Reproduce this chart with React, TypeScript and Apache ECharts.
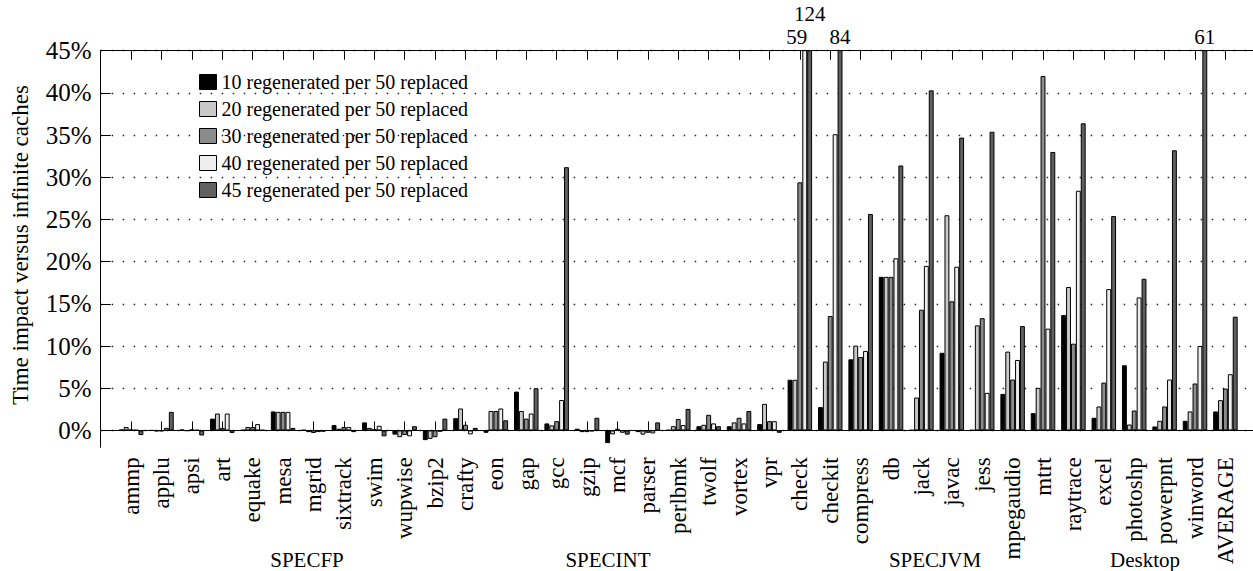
import React, { useEffect, useRef } from 'react';
import * as echarts from 'echarts';

const categories = [
  'ammp', 'applu', 'apsi', 'art', 'equake', 'mesa', 'mgrid', 'sixtrack', 'swim', 'wupwise',
  'bzip2', 'crafty', 'eon', 'gap', 'gcc', 'gzip', 'mcf', 'parser', 'perlbmk', 'twolf', 'vortex', 'vpr',
  'check', 'checkit', 'compress', 'db', 'jack', 'javac', 'jess', 'mpegaudio', 'mtrt', 'raytrace',
  'excel', 'photoshp', 'powerpnt', 'winword', 'AVERAGE',
];

const regen10 = [
  0.1, 0.0, 0.1, 1.4, 0.05, 2.25, 0.05, 0.63, 0.95, -0.5,
  -1.15, 1.45, -0.28, 4.6, 0.83, 0.2, -1.5, -0.2, 0.05, 0.5, 0.5, 0.75,
  6.0, 2.76, 8.43, 18.2, 0.04, 9.2, 0.04, 4.33, 2.05, 13.67,
  1.5, 7.72, 0.47, 1.14, 2.25,
];
const regen20 = [
  0.4, -0.1, -0.05, 2.0, 0.4, 2.2, -0.2, 0.2, 0.3, -0.8,
  -1.0, 2.6, 2.3, 2.3, 0.6, -0.2, -0.47, -0.5, 0.5, 0.67, 0.95, 3.15,
  6.0, 8.16, 10.05, 18.2, 3.9, 25.5, 12.45, 9.34, 5.04, 17.0,
  2.84, 0.7, 1.14, 2.25, 3.59,
];
const regen30 = [
  0.1, -0.1, 0.1, 0.3, 0.4, 2.2, -0.3, 0.4, 0.15, -0.55,
  -0.8, 0.67, 2.3, 1.4, 1.1, -0.2, 0.2, -0.28, 1.35, 1.85, 1.5, 1.1,
  29.4, 13.55, 8.7, 18.2, 14.3, 15.3, 13.3, 6.03, 42.0, 10.28,
  5.67, 2.36, 2.84, 5.56, 4.96,
];
const regen40 = [
  0.05, 0.3, 0.05, 2.0, 0.75, 2.2, -0.2, 0.4, 0.55, -0.7,
  -0.15, -0.47, 2.6, 2.0, 3.6, -0.1, -0.28, -0.35, 0.63, 0.83, 0.83, 1.1,
  59, 35.1, 9.42, 20.4, 19.5, 19.4, 4.45, 8.35, 12.06, 28.4,
  16.75, 15.76, 6.03, 10.0, 6.66,
];
const regen45 = [
  -0.55, 2.2, -0.6, -0.3, 0.05, 0.3, -0.15, -0.2, -0.7, 0.5,
  1.4, 0.3, 1.2, 5.0, 31.2, 1.5, -0.5, 0.95, 2.55, 0.5, 2.3, -0.28,
  124, 84, 25.65, 31.4, 40.3, 34.7, 35.4, 12.37, 33.0, 36.4,
  25.4, 17.97, 33.2, 61, 13.48,
];

const seriesNames = [
  '10 regenerated per 50 replaced',
  '20 regenerated per 50 replaced',
  '30 regenerated per 50 replaced',
  '40 regenerated per 50 replaced',
  '45 regenerated per 50 replaced',
];
const seriesValues = [regen10, regen20, regen30, regen40, regen45];

const yTicks = [0, 5, 10, 15, 20, 25, 30, 35, 40, 45];

const yTitle = 'Time impact versus infinite caches';
const groupNames = ['SPECFP', 'SPECINT', 'SPECJVM', 'Desktop'];

export default function App() {
  const ref = useRef<HTMLDivElement>(null);

  useEffect(() => {
    if (!ref.current) return;
    const chart = echarts.init(ref.current, null, { renderer: 'svg' });
    const font = 'Liberation Serif';
    const colors = ['#000000', '#c8c8c8', '#8c8c8c', '#eeeeee', '#606060'];
    const YMIN = -2;
    const YMAX = 45;
    const padL = '_padL';
    const padR = '_padR';
    const axisData = [padL, ...categories, padR];
    const isPad = (v: string) => v === padL || v === padR;
    const overflowOffsets: Record<string, number[]> = {
      'check|3': [-8, 0],
      'check|4': [0, -23],
    };
    const groupX = [307, 608, 935, 1145];

    const series: any[] = seriesValues.map((vals, si) => ({
      name: seriesNames[si],
      type: 'bar',
      xAxisIndex: 0,
      barWidth: 4.9,
      barGap: '0%',
      itemStyle: { color: colors[si], borderColor: '#000', borderWidth: 1 },
      label: {
        show: false,
        position: 'top',
        distance: 3,
        color: '#000',
        fontFamily: font,
        fontSize: 21,
        formatter: (p: any) => String(p.value),
      },
      data: [
        '-',
        ...vals.map((v, ci) =>
          v > YMAX
            ? {
                value: v,
                label: { show: true, offset: overflowOffsets[categories[ci] + '|' + si] || [0, 0] },
              }
            : v
        ),
        '-',
      ],
    }));

    series[0].markLine = {
      silent: true,
      symbol: 'none',
      label: { show: false },
      lineStyle: { color: '#000', type: 'solid', width: 1 },
      data: [{ yAxis: 0 }],
    };

    const xAxisCommon = {
      type: 'category',
      data: axisData,
      boundaryGap: false,
      axisLine: { show: true, lineStyle: { color: '#000', width: 1 } },
      axisTick: {
        show: true,
        inside: true,
        length: 9,
        interval: (_i: number, v: string) => !isPad(v),
        lineStyle: { color: '#000', width: 1 },
      },
      splitLine: { show: false },
    };

    chart.setOption({
      animation: false,
      backgroundColor: '#fff',
      grid: {
        left: 100.7,
        top: 50.7,
        right: -2.8,
        bottom: 123.7,
        containLabel: false,
        outerBoundsMode: 'none',
      },
      legend: {
        orient: 'vertical',
        left: 199,
        top: 72,
        padding: 0,
        itemWidth: 17,
        itemHeight: 15,
        itemGap: 7,
        itemTextGap: 14,
        icon: 'rect',
        itemStyle: { borderColor: '#000', borderWidth: 1 },
        textStyle: { fontFamily: font, fontSize: 20, color: '#000', lineHeight: 15 },
        data: seriesNames,
      },
      xAxis: [
        {
          ...xAxisCommon,
          position: 'bottom',
          axisLabel: {
            show: true,
            interval: 0,
            rotate: 90,
            margin: 10,
            fontFamily: font,
            fontSize: 23,
            color: '#000',
            formatter: (v: string) => (isPad(v) ? '' : v),
          },
        },
        {
          ...xAxisCommon,
          position: 'top',
          axisLabel: { show: false },
        },
      ],
      yAxis: {
        type: 'value',
        min: YMIN,
        max: YMAX,
        axisLine: { show: true, lineStyle: { color: '#000', width: 1 } },
        axisTick: {
          show: true,
          inside: true,
          length: 10,
          customValues: yTicks,
          lineStyle: { color: '#000', width: 1 },
        },
        axisLabel: {
          show: true,
          customValues: yTicks,
          margin: 9,
          fontFamily: font,
          fontSize: 25,
          color: '#000',
          formatter: (v: number) => v + '%',
        },
        splitLine: {
          show: true,
          lineStyle: { color: '#222', width: 1.3, type: [1.5, 9.5] },
        },
      },
      graphic: [
        {
          type: 'text',
          x: 20,
          y: 245,
          rotation: Math.PI / 2,
          style: {
            text: yTitle,
            fontFamily: font,
            fontSize: 23,
            fill: '#000',
            align: 'center',
            verticalAlign: 'middle',
          },
        },
        ...groupNames.map((name, i) => ({
          type: 'text',
          x: groupX[i],
          y: 560,
          style: {
            text: name,
            fontFamily: font,
            fontSize: 21,
            fill: '#000',
            align: 'center',
            verticalAlign: 'middle',
          },
        })),
      ],
      series,
    });

    return () => {
      chart.dispose();
    };
  }, []);

  return (
    <div
      ref={ref}
      style={{ position: 'fixed', left: 0, top: 0, width: 1253, height: 571, background: '#fff' }}
    />
  );
}
